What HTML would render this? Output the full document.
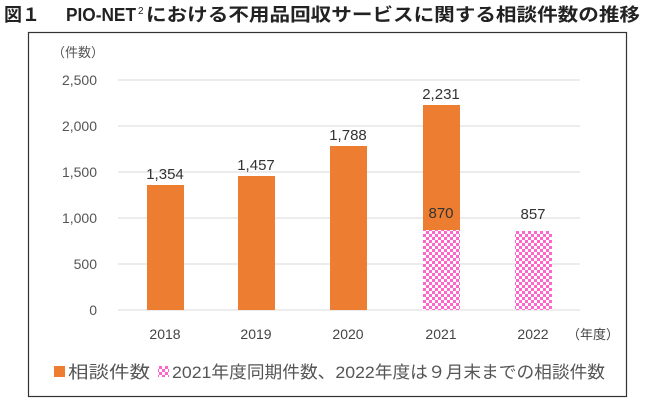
<!DOCTYPE html>
<html><head><meta charset="utf-8"><style>
body{margin:0;width:657px;height:401px;background:#fff;overflow:hidden;font-family:"Liberation Sans","Noto Sans CJK JP",sans-serif;}
</style></head><body>
<svg width="657" height="401" xmlns="http://www.w3.org/2000/svg" font-family="Liberation Sans, Noto Sans CJK JP, sans-serif">
<defs>
<pattern id="ck" width="6" height="6" patternUnits="userSpaceOnUse">
<rect width="6" height="6" fill="#ff66cc"/>
<rect width="3" height="3" fill="#fff"/>
<rect x="3" y="3" width="3" height="3" fill="#fff"/>
</pattern>
</defs>
<text x="4" y="21" font-size="18" font-weight="bold" fill="#222">図１</text>
<text x="66" y="21" font-size="18" font-weight="bold" fill="#222" textLength="70" lengthAdjust="spacingAndGlyphs">PIO-NET</text>
<text x="138" y="14" font-size="10" fill="#222">2</text>
<text x="146" y="21" font-size="18" font-weight="bold" fill="#222" textLength="494" lengthAdjust="spacingAndGlyphs">における不用品回収サービスに関する相談件数の推移</text>
<rect x="28.5" y="32.5" width="598" height="364" fill="none" stroke="#333" stroke-width="1.2"/>
<text x="52" y="57" font-size="13" fill="#555">（件数）</text>
<g stroke="#d9d9d9" stroke-width="1">
<line x1="118" x2="580" y1="80" y2="80"/><line x1="118" x2="580" y1="126" y2="126"/>
<line x1="118" x2="580" y1="172" y2="172"/><line x1="118" x2="580" y1="218" y2="218"/>
<line x1="118" x2="580" y1="264" y2="264"/><line x1="118" x2="580" y1="310" y2="310"/>
</g>
<g font-size="14" fill="#555" text-anchor="end">
<text x="97" y="85">2,500</text><text x="97" y="131">2,000</text><text x="97" y="177">1,500</text>
<text x="97" y="223">1,000</text><text x="97" y="269">500</text><text x="97" y="315">0</text>
</g>
<g fill="#ed7d31">
<rect x="147" y="185" width="37" height="125"/>
<rect x="238" y="176" width="37" height="134"/>
<rect x="330" y="146" width="37" height="164"/>
<rect x="423" y="105" width="37" height="205"/>
</g>
<rect x="423" y="230" width="37" height="80" fill="url(#ck)"/>
<rect x="515" y="231" width="37" height="79" fill="url(#ck)"/>
<g font-size="15" fill="#333" text-anchor="middle">
<text x="165" y="179">1,354</text><text x="256" y="170">1,457</text><text x="348" y="140">1,788</text>
<text x="441" y="99">2,231</text><text x="441" y="218">870</text><text x="533" y="219">857</text>
</g>
<g font-size="14" fill="#444" text-anchor="middle">
<text x="165" y="339">2018</text><text x="256" y="339">2019</text><text x="348" y="339">2020</text>
<text x="441" y="339">2021</text><text x="533" y="339">2022</text>
</g>
<text x="567" y="339" font-size="13" fill="#444">（年度）</text>
<rect x="54" y="366" width="11" height="11" fill="#ed7d31"/>
<text x="68" y="378" font-size="17" fill="#555" textLength="82" lengthAdjust="spacingAndGlyphs">相談件数</text>
<rect x="158" y="366" width="11" height="11" fill="url(#ck)"/>
<text x="172" y="378" font-size="17" fill="#555" textLength="433" lengthAdjust="spacingAndGlyphs">2021年度同期件数、2022年度は９月末までの相談件数</text>
</svg>
</body></html>
